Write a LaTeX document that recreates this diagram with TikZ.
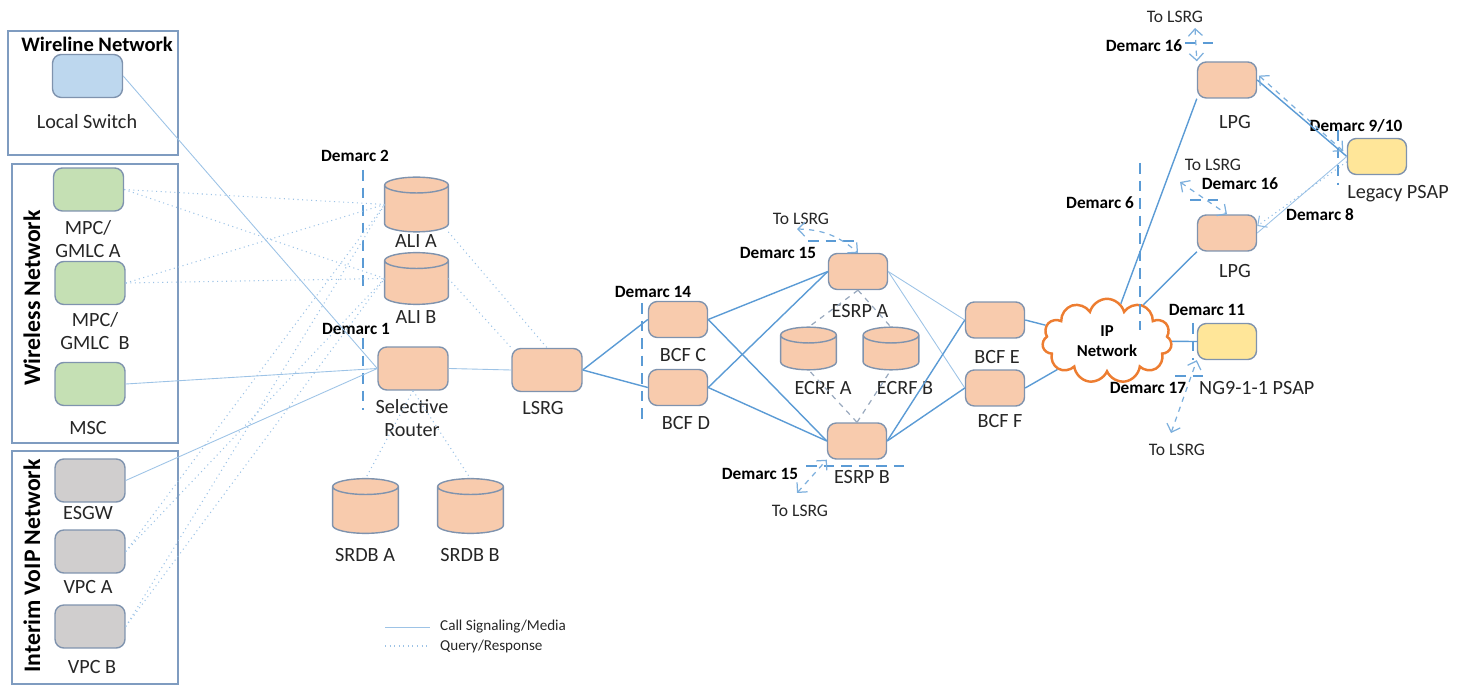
\documentclass[tikz,border=0pt]{standalone}
\usepackage{fontspec}
\setmainfont{Carlito}
\usetikzlibrary{shapes.symbols,arrows.meta,positioning,calc}

\definecolor{nodeline}{HTML}{7F93AE}
\definecolor{peach}{HTML}{F8CBAD}
\definecolor{skyfill}{HTML}{BDD7EE}
\definecolor{leaf}{HTML}{C5E0B4}
\definecolor{ash}{HTML}{D0CECE}
\definecolor{sand}{HTML}{FFE699}
\definecolor{wire}{HTML}{5B9BD5}
\definecolor{palewire}{HTML}{9DC3E6}
\definecolor{cloudorange}{HTML}{ED7D31}
\definecolor{frame}{HTML}{7F9CC0}
\definecolor{ink}{HTML}{262626}

% base de donnees dessinee sur le cadre d'un noeud
\newcommand{\drum}[1]{%
  \path let \p1=(#1.south west), \p2=(#1.north east), \n1={(\x2-\x1)/2} in
    [draw=nodeline, fill=peach, line width=0.8pt]
    (\x1,\y2-4.5pt) -- (\x1,\y1+4.5pt)
    arc[start angle=180, end angle=360, x radius=\n1, y radius=4.5pt]
    -- (\x2,\y2-4.5pt)
    arc[start angle=0, end angle=180, x radius=\n1, y radius=4.5pt] -- cycle
    (\x1+\n1,\y2-4.5pt) ellipse[x radius=\n1, y radius=4.5pt];%
}

\begin{document}
\begin{tikzpicture}[x=0.02cm, y=-0.02cm, >={Straight Barb[length=4pt]},
  box/.style={draw=nodeline, rounded corners=5pt, line width=0.8pt, inner sep=0pt,
    minimum width=1.4cm, minimum height=0.86cm},
  smallbox/.style={box, minimum width=1.18cm, minimum height=0.72cm},
  db/.style={inner sep=0pt, minimum width=1.26cm, minimum height=1.08cm},
  lbl/.style={text=ink, font=\fontsize{11.5}{13.5}\selectfont, align=center},
  dmc/.style={font=\bfseries\fontsize{9.8}{11}\selectfont},
  tolsrg/.style={text=ink, font=\fontsize{10}{11}\selectfont},
  title/.style={font=\bfseries\fontsize{11.7}{13}\selectfont},
  sidetitle/.style={font=\bfseries\fontsize{13.5}{15}\selectfont, rotate=90},
  netbox/.style={draw=frame, line width=0.9pt},
  call/.style={draw=wire, line width=0.8pt},
  thincall/.style={draw=palewire, line width=0.5pt},
  query/.style={draw=palewire, line width=0.6pt, dotted},
  lookup/.style={draw=nodeline!80, dashed, line width=0.7pt},
  demarc/.style={draw=wire, line width=1.6pt, dash pattern=on 6pt off 4pt},
  tolink/.style={draw=wire!80, dashed, line width=0.7pt, <->},
  keytext/.style={anchor=west, text=ink, font=\fontsize{8.6}{10}\selectfont},
]
\useasboundingbox (0,0) rectangle (1459,685);

% --- Reseaux d'origine ---
\draw[netbox] (8,31) rectangle (178,155);
\draw[netbox] (12,164) rectangle (178,443);
\draw[netbox] (12,451) rectangle (178,684);
\node[title] (twl) at (97,44) {Wireline Network};
\node[sidetitle] (twf) at (32,298) {Wireless Network};
\node[sidetitle] (tvoip) at (32,566) {Interim VoIP Network};

\node[box, fill=skyfill] (ls) at (87.5,76) {};
\node[lbl] (lls) at (87,122) {Local Switch};
\node[box, fill=leaf] (mpca) at (88.5,189.5) {};
\node[lbl] (lmpca) at (88,239) {MPC/\\GMLC A};
\node[box, fill=leaf] (mpcb) at (90,283) {};
\node[lbl] (lmpcb) at (95,331) {MPC/\\GMLC\ \ B};
\node[box, fill=leaf] (msc) at (90,384) {};
\node[lbl] (lmsc) at (88,428) {MSC};
\node[box, fill=ash] (esgw) at (90,480.5) {};
\node[lbl] (lesgw) at (88,513) {ESGW};
\node[box, fill=ash] (vpca) at (90,551.5) {};
\node[lbl] (lvpca) at (88,587) {VPC A};
\node[box, fill=ash] (vpcb) at (90,626.5) {};
\node[lbl] (lvpcb) at (92,667) {VPC B};

% --- Reseau historique ---
\node[db] (alia) at (416.5,204.5) {};
\drum{alia}
\node[lbl] (lalia) at (416,241) {ALI A};
\node[db, minimum height=1.02cm] (alib) at (416.5,278.5) {};
\drum{alib}
\node[lbl] (lalib) at (416,317) {ALI B};
\node[box, fill=peach] (sr) at (413,368.5) {};
\node[lbl] (lsr) at (412,418) {Selective\\Router};
\node[db, minimum width=1.3cm] (srdba) at (365.5,506) {};
\drum{srdba}
\node[lbl] (lsrdba) at (365,555) {SRDB A};
\node[db, minimum width=1.3cm] (srdbb) at (470.5,506) {};
\drum{srdbb}
\node[lbl] (lsrdbb) at (470,555) {SRDB B};
\node[box, fill=peach] (lsrg) at (547,370) {};
\node[lbl] (llsrg) at (543,408) {LSRG};

\node[dmc] (d2) at (355,156) {Demarc 2};
\node[dmc] (d1) at (356,329) {Demarc 1};
\draw[demarc] (363,170) -- (363,290);
\draw[demarc] (363,338) -- (363,410);

% --- ESInet ---
\node[smallbox, fill=peach] (bcfc) at (678,319.5) {};
\node[lbl] (lbcfc) at (683,355) {BCF C};
\node[smallbox, fill=peach] (bcfd) at (678,387.5) {};
\node[lbl] (lbcfd) at (686,423) {BCF D};
\node[dmc] (d14) at (653,292) {Demarc 14};
\draw[demarc] (642,303) -- (642,425);

\node[smallbox, fill=peach] (esrpa) at (858,271.5) {};
\node[lbl] (lesrpa) at (860,311) {ESRP A};
\node[smallbox, fill=peach] (esrpb) at (857,441) {};
\node[lbl] (lesrpb) at (862,477) {ESRP B};
\node[db, minimum width=1.1cm, minimum height=0.84cm] (ecrfa) at (808.5,348.5) {};
\drum{ecrfa}
\node[lbl] (lecrfa) at (823,388) {ECRF A};
\node[db, minimum width=1.1cm, minimum height=0.84cm] (ecrfb) at (891,348.5) {};
\drum{ecrfb}
\node[lbl] (lecrfb) at (905,388) {ECRF B};
\node[dmc] (d15a) at (778,253) {Demarc 15};
\node[dmc] (d15b) at (760,474) {Demarc 15};
\node[tolsrg] (tl1) at (801,219) {To LSRG};
\node[tolsrg] (tl2) at (800,511) {To LSRG};
\draw[demarc] (808,241) -- (855,241);
\draw[demarc] (806,466) -- (908,466);

\node[smallbox, fill=peach] (bcfe) at (995,320) {};
\node[lbl] (lbcfe) at (997,357) {BCF E};
\node[smallbox, fill=peach] (bcff) at (995,388) {};
\node[lbl] (lbcff) at (1000,421) {BCF F};

\node[cloud, cloud puffs=11, aspect=2, draw=cloudorange, fill=white, line width=1.4pt,
  minimum width=2.25cm, minimum height=1.2cm, align=center,
  font=\bfseries\fontsize{9.5}{11.5}\selectfont] (ip) at (1107,341) {IP\\Network};
\node[dmc] (d6) at (1100,203) {Demarc 6};
\draw[demarc] (1140,163) -- (1140,330);

% --- PSAP ---
\node[smallbox, fill=peach] (lpgt) at (1227,80) {};
\node[lbl] (llpgt) at (1235,122) {LPG};
\node[smallbox, fill=peach] (lpgb) at (1227,233) {};
\node[lbl] (llpgb) at (1235,271) {LPG};
\node[smallbox, fill=sand] (legacy) at (1377,156.5) {};
\node[lbl] (llegacy) at (1398,194) {Legacy PSAP};
\node[smallbox, fill=sand] (ng) at (1227,341.5) {};
\node[lbl, anchor=west] (lng) at (1193,388) {NG9-1-1 PSAP};

\node[tolsrg] (tl3) at (1175,17) {To LSRG};
\node[dmc] (d16a) at (1144,46) {Demarc 16};
\node[tolsrg] (tl4) at (1213,165) {To LSRG};
\node[dmc] (d16b) at (1240,184) {Demarc 16};
\node[dmc] (d910) at (1356,126) {Demarc 9/10};
\node[dmc] (d8) at (1320,215) {Demarc 8};
\node[dmc] (d11) at (1207,310) {Demarc 11};
\node[dmc] (d17) at (1148,388) {Demarc 17};
\node[tolsrg] (tl5) at (1177,450) {To LSRG};
\draw[demarc] (1185,43) -- (1218,43);
\draw[demarc] (1190,200) -- (1222,200);
\draw[demarc] (1338,130) -- (1338,185);
\draw[demarc] (1193,323) -- (1193,360);
\draw[demarc] (1175,376) -- (1210,376);

% --- Liaisons appel ---
\draw[thincall] (ls.east) -- (sr.west);
\draw[thincall] (msc.east) -- (sr.west);
\draw[thincall] (esgw.east) -- (sr.west);
\draw[thincall] (sr.east) -- (lsrg.west);
\draw[call] (lsrg.east) -- (bcfc.west);
\draw[call] (lsrg.east) -- (bcfd.west);
\draw[call] (bcfc.east) -- (esrpa.west);
\draw[call] (bcfc.east) -- (esrpb.west);
\draw[call] (bcfd.east) -- (esrpa.west);
\draw[call] (bcfd.east) -- (esrpb.west);
\draw[thincall] (esrpa.east) -- (bcfe.west);
\draw[thincall] (esrpa.east) -- (bcff.west);
\draw[call] (esrpb.east) -- (bcfe.west);
\draw[call] (esrpb.east) -- (bcff.west);
\draw[call] (bcfe.east) -- (ip);
\draw[call] (bcff.east) -- (ip);
\draw[call] (ip) -- (lpgt.south west);
\draw[call] (ip) -- (lpgb.south west);
\draw[call] (ip) -- (ng.west);
\draw[call] (lpgt.east) -- (legacy.west);
\draw[thincall] (legacy.west) -- (lpgb.east);

% --- Liaisons requete ---
\foreach \src in {mpca,mpcb,vpca,vpcb}{
  \draw[query] (\src.east) -- (alia.west);
  \draw[query] (\src.east) -- (alib.west);
}
\draw[query] (alia.south east) -- (lsrg.north);
\draw[query] (alib.east) -- (lsrg.north west);
\draw[query] (sr.south) -- (srdba.north);
\draw[query] (sr.south) -- (srdbb.north);
\draw[lookup] (esrpa.south) -- (ecrfa.north);
\draw[lookup] (esrpa.south) -- (ecrfb.north);
\draw[lookup] (esrpb.north) -- (ecrfa.south);
\draw[lookup] (esrpb.north) -- (ecrfb.south);

% --- Vers LSRG ---
\coordinate (e1) at (797,229);
\coordinate (e2) at (797,493);
\coordinate (e3) at (1195,28);
\coordinate (e4) at (1180,182);
\coordinate (e5) at (1171,433);
\draw[tolink] (e1) to[bend left=20] (esrpa.north);
\draw[tolink] (e2) -- (esrpb.south west);
\draw[tolink] (e3) -- (lpgt.north west);
\draw[tolink] (e4) -- (lpgb.north);
\draw[tolink] (e5) -- (ng.south west);
\draw[tolink] ([shift={(1pt,2.5pt)}]lpgt.east) -- ([shift={(-2pt,3pt)}]legacy.west);
\draw[query, ->, draw=wire!70] ([yshift=-3pt]legacy.west) -- ([yshift=4pt]lpgb.east);

% --- Legende ---
\coordinate (k1) at (385,627);
\coordinate (k2) at (430,627);
\coordinate (k3) at (385,646);
\coordinate (k4) at (430,646);
\draw[thincall] (k1) -- (k2);
\draw[query] (k3) -- (k4);
\node[keytext] (kcall) at (434,627) {Call Signaling/Media};
\node[keytext] (kquery) at (434,646) {Query/Response};

\end{tikzpicture}
\end{document}
